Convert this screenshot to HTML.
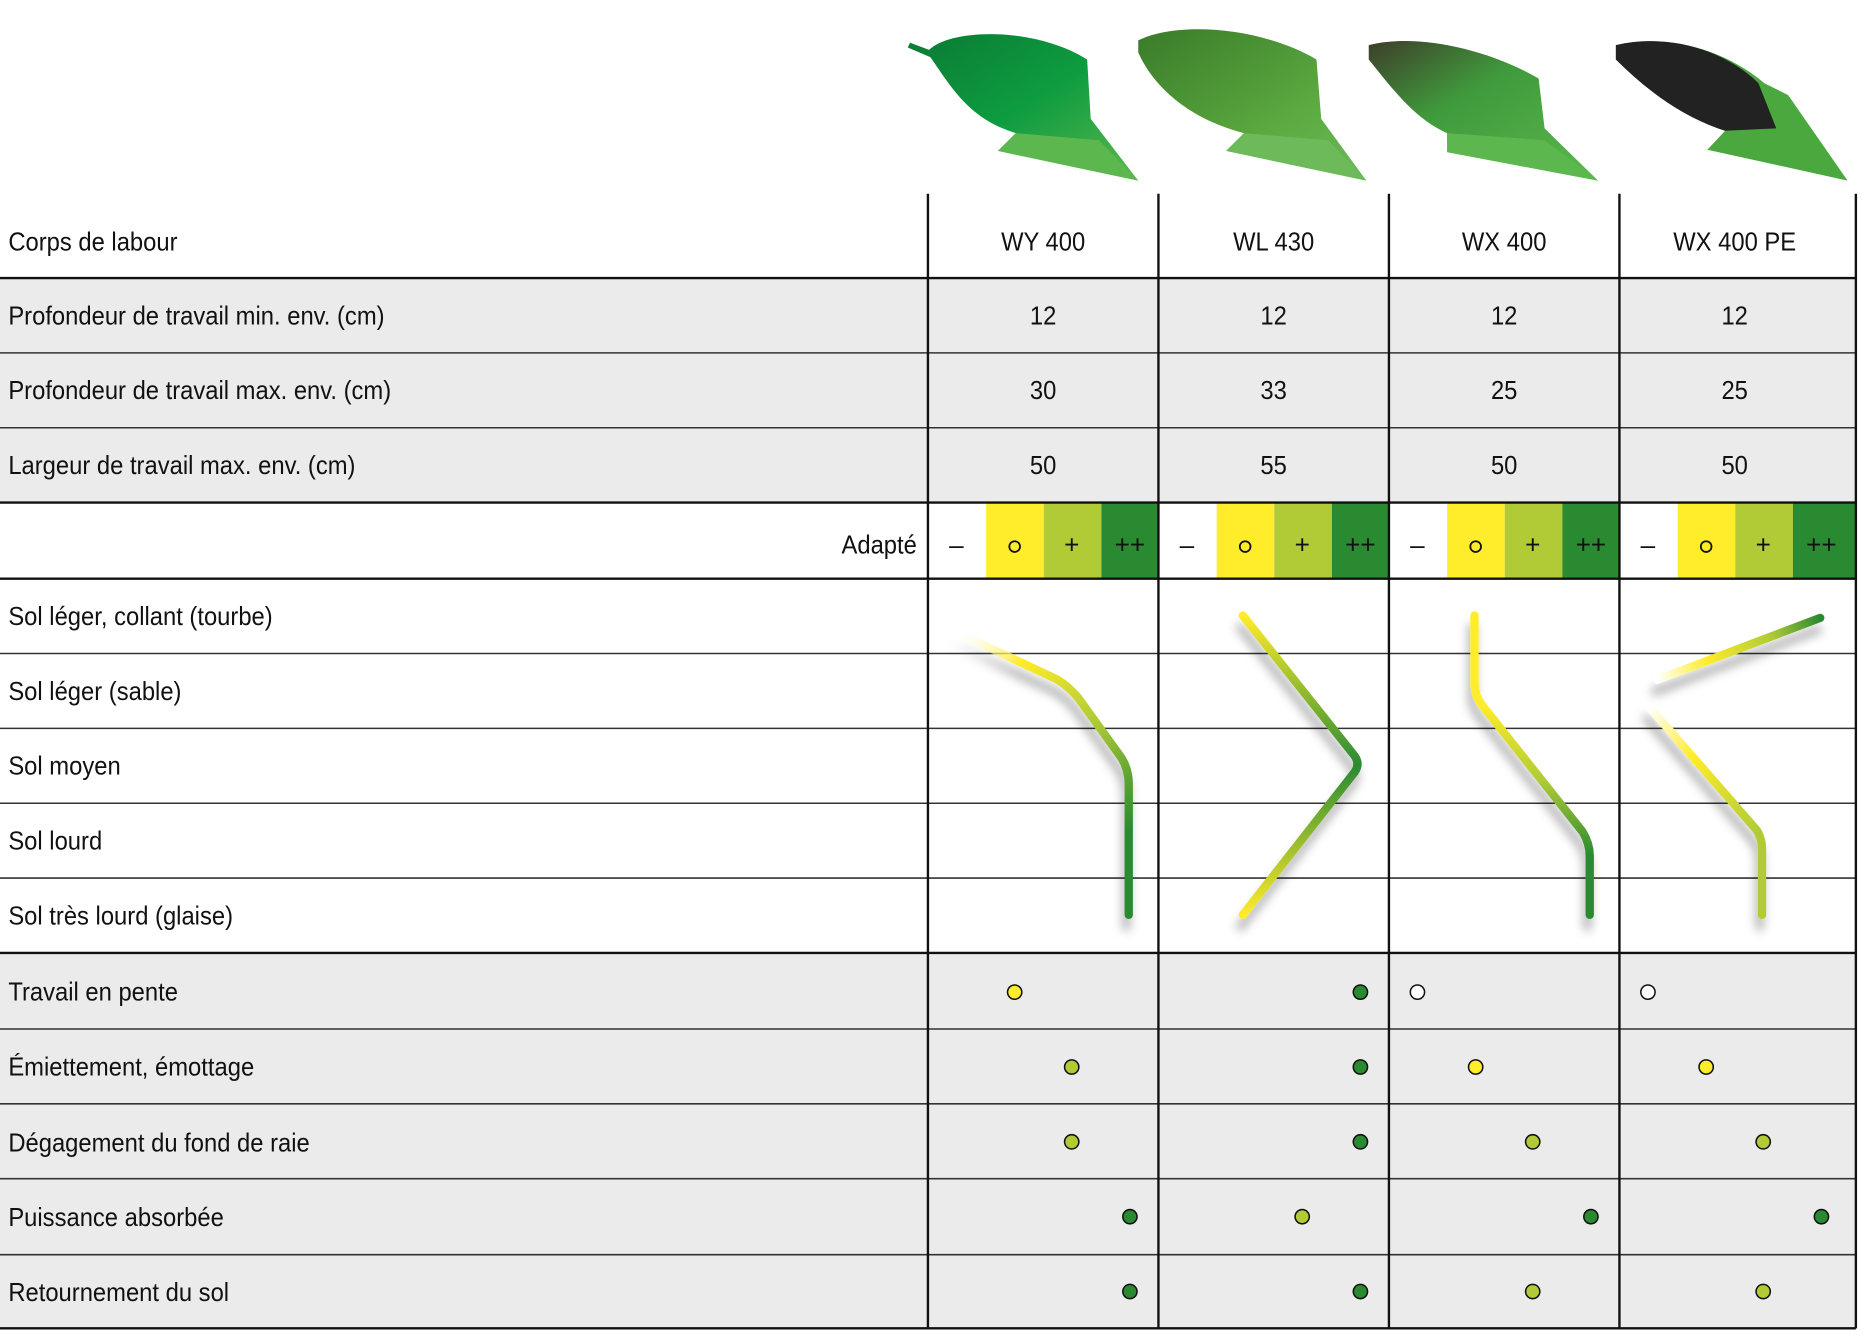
<!DOCTYPE html>
<html><head><meta charset="utf-8"><style>html,body{margin:0;padding:0;background:#fff}svg{display:block}text{font-family:"Liberation Sans Narrow","Liberation Sans",sans-serif;font-size:22px;fill:#111}</style></head><body>
<svg width="1863" height="1341" viewBox="0 0 1568 1128.6" xmlns="http://www.w3.org/2000/svg">
<defs>
<linearGradient id="p1" x1="0" y1="0" x2="1" y2="1"><stop offset="0" stop-color="#0a7a34"/><stop offset="0.5" stop-color="#0e9c40"/><stop offset="1" stop-color="#5cb84e"/></linearGradient>
<linearGradient id="p2" x1="0" y1="0" x2="1" y2="1"><stop offset="0" stop-color="#3a7a2a"/><stop offset="0.6" stop-color="#5aa83e"/><stop offset="1" stop-color="#6cba5a"/></linearGradient>
<linearGradient id="p3" x1="0" y1="0" x2="1" y2="1"><stop offset="0" stop-color="#3e3e2a"/><stop offset="0.4" stop-color="#3f9a3c"/><stop offset="1" stop-color="#5cb84e"/></linearGradient>
<linearGradient id="gA" gradientUnits="userSpaceOnUse" x1="805" y1="530" x2="950" y2="700"><stop offset="0" stop-color="#fff" stop-opacity="0"/><stop offset="0.25" stop-color="#ffec2a"/><stop offset="0.6" stop-color="#b0cb35"/><stop offset="1" stop-color="#2a8a31"/></linearGradient>
<linearGradient id="gB" gradientUnits="userSpaceOnUse" x1="0" y1="518" x2="0" y2="770"><stop offset="0" stop-color="#ffec2a"/><stop offset="0.5" stop-color="#2a8a31"/><stop offset="1" stop-color="#ffec2a"/></linearGradient>
<linearGradient id="gC" gradientUnits="userSpaceOnUse" x1="0" y1="518" x2="0" y2="770"><stop offset="0" stop-color="#ffec2a"/><stop offset="0.3" stop-color="#ffec2a"/><stop offset="0.55" stop-color="#b0cb35"/><stop offset="0.8" stop-color="#2a8a31"/></linearGradient>
<linearGradient id="gD1" gradientUnits="userSpaceOnUse" x1="1395" y1="572" x2="1532" y2="520"><stop offset="0" stop-color="#fff"/><stop offset="0.3" stop-color="#ffec2a"/><stop offset="0.7" stop-color="#b0cb35"/><stop offset="1" stop-color="#2a8a31"/></linearGradient>
<linearGradient id="gD2" gradientUnits="userSpaceOnUse" x1="1388" y1="595" x2="1480" y2="700"><stop offset="0" stop-color="#fff"/><stop offset="0.4" stop-color="#ffec2a"/><stop offset="1" stop-color="#b0cb35"/></linearGradient>
<filter id="sh" x="-20%" y="-20%" width="140%" height="140%"><feDropShadow dx="-2" dy="10" stdDeviation="4" flood-color="#000" flood-opacity="0.3"/></filter>
</defs>
<g>
<path d="M766,36 L782,42 C800,24 870,22 915,50 L918,100 L958,152 L840,127 L855,112 C815,100 800,72 783,48 L764,40 Z" fill="url(#p1)"/>
<path d="M840,127 L855,112 L925,118 L958,152 Z" fill="#5cb84e"/>
<path d="M958,34 C990,18 1060,22 1108,50 L1112,100 L1150,152 L1032,127 L1047,112 C1000,100 970,72 958,44 Z" fill="url(#p2)"/>
<path d="M1032,127 L1047,112 L1118,118 L1150,152 Z" fill="#6cba5a"/>
<path d="M1152,38 C1190,28 1250,40 1295,66 L1300,108 L1345,152 L1218,128 L1218,112 C1190,100 1170,72 1152,50 Z" fill="url(#p3)"/>
<path d="M1218,128 L1218,112 L1300,118 L1345,152 Z" fill="#5cb84e"/>
<path d="M1360,38 C1400,28 1450,40 1485,70 L1505,80 L1555,152 L1437,126 L1452,110 C1420,100 1390,80 1360,50 Z" fill="#4aa83e"/>
<path d="M1360,38 C1400,28 1450,40 1480,70 L1495,108 L1452,110 C1420,100 1390,80 1360,50 Z" fill="#222"/>
</g>
<rect x="0" y="234" width="1562" height="189" fill="#ebebeb"/>
<rect x="0" y="802" width="1562" height="316" fill="#ebebeb"/>
<g>
<rect x="830" y="423" width="48.5" height="64" fill="#ffec2a"/><rect x="878.5" y="423" width="48.5" height="64" fill="#b0cb35"/><rect x="927" y="423" width="48" height="64" fill="#2a8a31"/>
<rect x="1024" y="423" width="48.5" height="64" fill="#ffec2a"/><rect x="1072.5" y="423" width="48.5" height="64" fill="#b0cb35"/><rect x="1121" y="423" width="48" height="64" fill="#2a8a31"/>
<rect x="1218" y="423" width="48.5" height="64" fill="#ffec2a"/><rect x="1266.5" y="423" width="48.5" height="64" fill="#b0cb35"/><rect x="1315" y="423" width="48" height="64" fill="#2a8a31"/>
<rect x="1412" y="423" width="48.5" height="64" fill="#ffec2a"/><rect x="1460.5" y="423" width="48.5" height="64" fill="#b0cb35"/><rect x="1509" y="423" width="53" height="64" fill="#2a8a31"/>
</g>
<g stroke="#333" stroke-width="1.3">
<line x1="0" y1="297" x2="1562" y2="297"/><line x1="0" y1="360" x2="1562" y2="360"/>
<line x1="0" y1="550" x2="1562" y2="550"/><line x1="0" y1="613" x2="1562" y2="613"/><line x1="0" y1="676" x2="1562" y2="676"/><line x1="0" y1="739" x2="1562" y2="739"/>
<line x1="0" y1="866" x2="1562" y2="866"/><line x1="0" y1="929" x2="1562" y2="929"/><line x1="0" y1="992" x2="1562" y2="992"/><line x1="0" y1="1056" x2="1562" y2="1056"/>
</g>
<g stroke="#111" stroke-width="2">
<line x1="0" y1="234" x2="1562" y2="234"/><line x1="0" y1="423" x2="1562" y2="423"/><line x1="0" y1="487" x2="1562" y2="487"/><line x1="0" y1="802" x2="1562" y2="802"/><line x1="0" y1="1118" x2="1562" y2="1118"/>
<line x1="781" y1="163" x2="781" y2="1118"/><line x1="975" y1="163" x2="975" y2="1118"/><line x1="1169" y1="163" x2="1169" y2="1118"/><line x1="1363" y1="163" x2="1363" y2="1118"/><line x1="1562" y1="163" x2="1562" y2="1118"/>
</g>
<g fill="none" stroke-width="7" stroke-linecap="round" stroke-linejoin="round" filter="url(#sh)">
<path d="M805,532 L890,572 Q900,578 908,588 L944,638 Q950,648 950,660 L950,770" stroke="url(#gA)"/>
<path d="M1046,518 L1140,636 Q1145,643 1140,650 L1046,770" stroke="url(#gB)"/>
<path d="M1241,518 L1241,575 Q1241,585 1247,593 L1332,700 Q1338,710 1338,720 L1338,770" stroke="url(#gC)"/>
<path d="M1532,520 L1395,572" stroke="url(#gD1)"/>
<path d="M1388,595 L1478,698 Q1483,705 1483,715 L1483,770" stroke="url(#gD2)"/>
</g>
<g transform="scale(0.91,1)">
<text x="7.7" y="211">Corps de labour</text>
<text x="7.7" y="273">Profondeur de travail min. env. (cm)</text>
<text x="7.7" y="336">Profondeur de travail max. env. (cm)</text>
<text x="7.7" y="399">Largeur de travail max. env. (cm)</text>
<text x="848" y="466" text-anchor="end">Adapté</text>
<text x="7.7" y="526">Sol léger, collant (tourbe)</text>
<text x="7.7" y="589">Sol léger (sable)</text>
<text x="7.7" y="652">Sol moyen</text>
<text x="7.7" y="715">Sol lourd</text>
<text x="7.7" y="778">Sol très lourd (glaise)</text>
<text x="7.7" y="842">Travail en pente</text>
<text x="7.7" y="905">Émiettement, émottage</text>
<text x="7.7" y="969">Dégagement du fond de raie</text>
<text x="7.7" y="1032">Puissance absorbée</text>
<text x="7.7" y="1095">Retournement du sol</text>
</g>
<g text-anchor="middle" transform="scale(0.91,1)">
<text x="964.8" y="211">WY 400</text><text x="1178" y="211">WL 430</text><text x="1391.2" y="211">WX 400</text><text x="1604.4" y="211">WX 400 PE</text>
<text x="964.8" y="273">12</text><text x="1178" y="273">12</text><text x="1391.2" y="273">12</text><text x="1604.4" y="273">12</text>
<text x="964.8" y="336">30</text><text x="1178" y="336">33</text><text x="1391.2" y="336">25</text><text x="1604.4" y="336">25</text>
<text x="964.8" y="399">50</text><text x="1178" y="399">55</text><text x="1391.2" y="399">50</text><text x="1604.4" y="399">50</text>
</g>
<g text-anchor="middle" style="font-size:18px">
<text x="805" y="466">–</text><text x="902" y="466">+</text><text x="951" y="466">++</text>
<text x="999" y="466">–</text><text x="1096" y="466">+</text><text x="1145" y="466">++</text>
<text x="1193" y="466">–</text><text x="1290" y="466">+</text><text x="1339" y="466">++</text>
<text x="1387" y="466">–</text><text x="1484" y="466">+</text><text x="1533" y="466">++</text>
</g>
<g fill="none" stroke="#111" stroke-width="1.5">
<circle cx="854" cy="460" r="4.5"/><circle cx="1048" cy="460" r="4.5"/><circle cx="1242" cy="460" r="4.5"/><circle cx="1436" cy="460" r="4.5"/>
</g>
<g stroke="#111" stroke-width="1.3">
<circle cx="854" cy="835" r="6" fill="#ffec2a"/><circle cx="1145" cy="835" r="6" fill="#2a8a31"/><circle cx="1193" cy="835" r="6" fill="#fff"/><circle cx="1387" cy="835" r="6" fill="#fff"/>
<circle cx="902" cy="898" r="6" fill="#b0cb35"/><circle cx="1145" cy="898" r="6" fill="#2a8a31"/><circle cx="1242" cy="898" r="6" fill="#ffec2a"/><circle cx="1436" cy="898" r="6" fill="#ffec2a"/>
<circle cx="902" cy="961" r="6" fill="#b0cb35"/><circle cx="1145" cy="961" r="6" fill="#2a8a31"/><circle cx="1290" cy="961" r="6" fill="#b0cb35"/><circle cx="1484" cy="961" r="6" fill="#b0cb35"/>
<circle cx="951" cy="1024" r="6" fill="#2a8a31"/><circle cx="1096" cy="1024" r="6" fill="#b0cb35"/><circle cx="1339" cy="1024" r="6" fill="#2a8a31"/><circle cx="1533" cy="1024" r="6" fill="#2a8a31"/>
<circle cx="951" cy="1087" r="6" fill="#2a8a31"/><circle cx="1145" cy="1087" r="6" fill="#2a8a31"/><circle cx="1290" cy="1087" r="6" fill="#b0cb35"/><circle cx="1484" cy="1087" r="6" fill="#b0cb35"/>
</g>
</svg>
</body></html>
